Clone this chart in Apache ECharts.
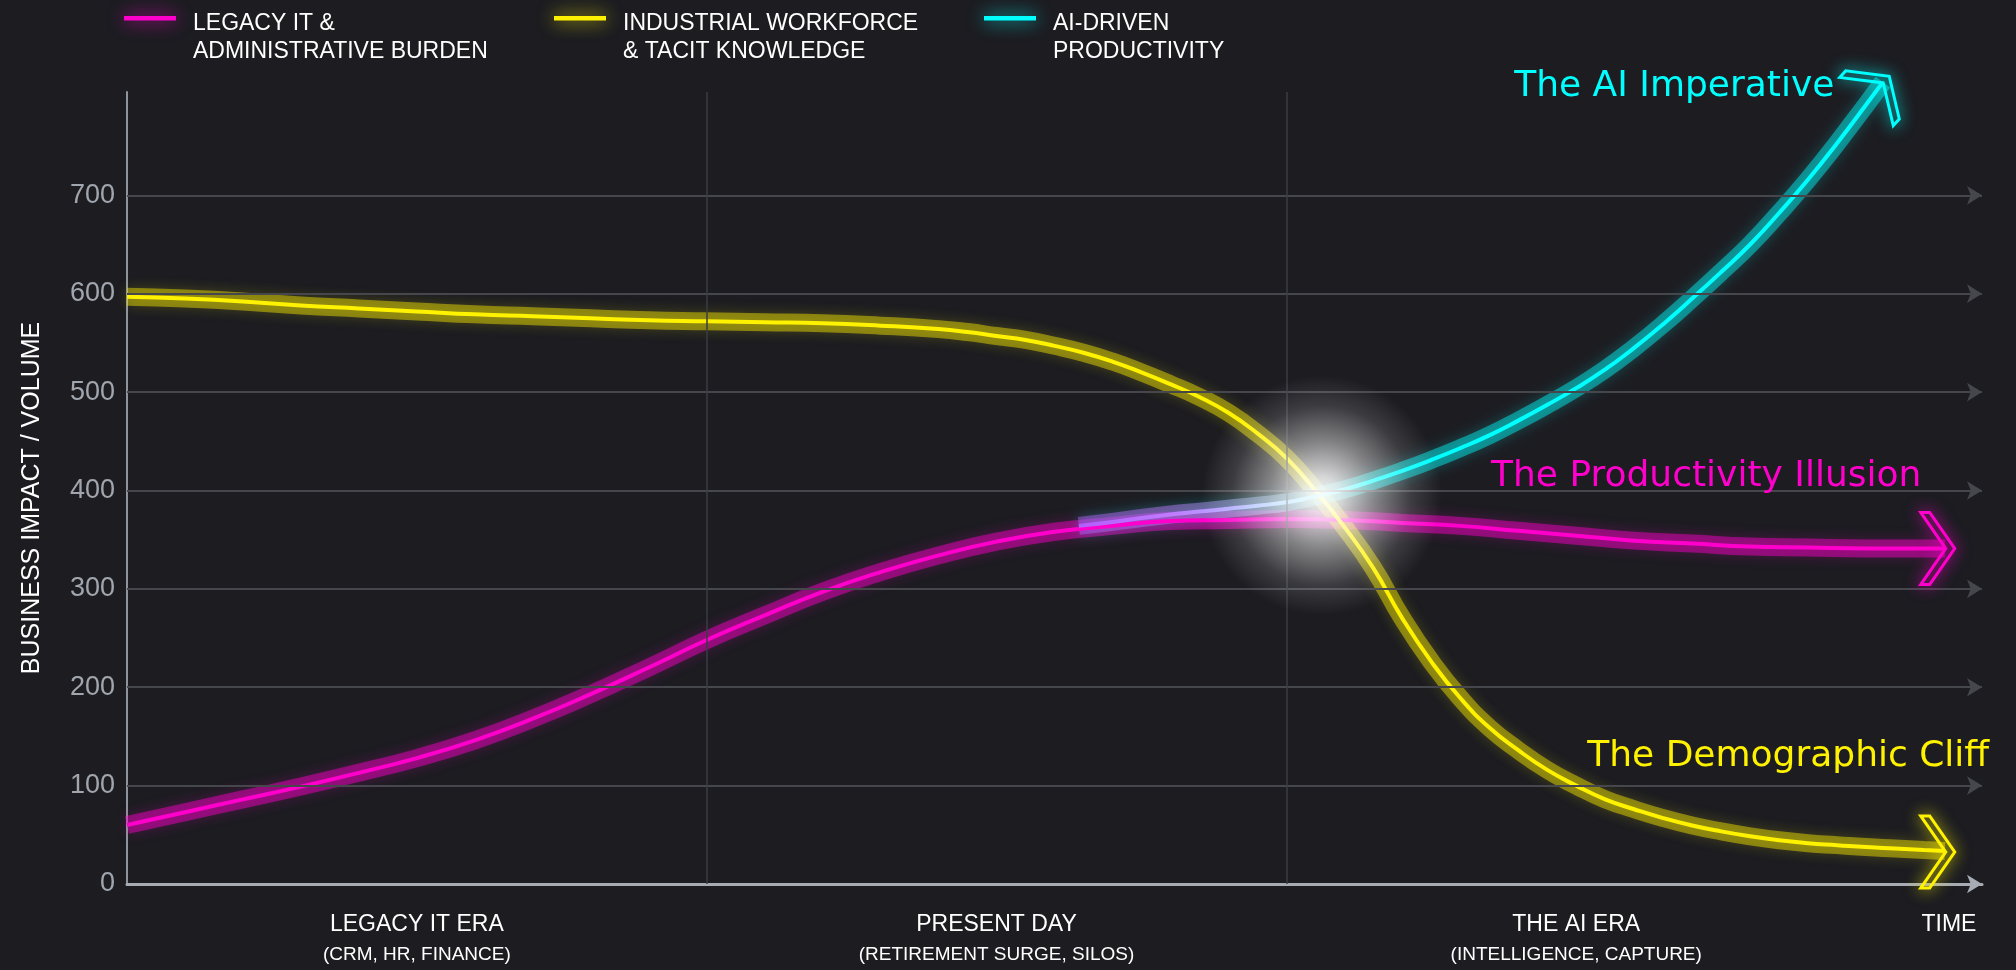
<!DOCTYPE html>
<html>
<head>
<meta charset="utf-8">
<script src="https://cdn.jsdelivr.net/npm/echarts@6.0.0/dist/echarts.min.js"></script>
<style>
html,body{margin:0;padding:0;background:#1c1c21;}
#chart{width:2016px;height:970px;}
</style>
</head>
<body>
<div id="chart"></div>
<script>
// ---------- DATA ----------
const seriesNames = ['LEGACY IT & ADMINISTRATIVE BURDEN', 'INDUSTRIAL WORKFORCE & TACIT KNOWLEDGE', 'AI-DRIVEN PRODUCTIVITY'];
const legendLabels = ['LEGACY IT &\nADMINISTRATIVE BURDEN', 'INDUSTRIAL WORKFORCE\n& TACIT KNOWLEDGE', 'AI-DRIVEN\nPRODUCTIVITY'];
const eraLabels = ['LEGACY IT ERA', 'PRESENT DAY', 'THE AI ERA'];
const eraSubLabels = ['(CRM, HR, FINANCE)', '(RETIREMENT SURGE, SILOS)', '(INTELLIGENCE, CAPTURE)'];
const eraCenters = [5, 15, 25];
const eraBoundaries = [10, 20];
const timeLabel = 'TIME';
const timeLabelAt = 31.43;
const yGridValues = [100, 200, 300, 400, 500, 600, 700];
const yAxisName = 'BUSINESS IMPACT / VOLUME';

const legacyIT = [[0,60],[1,73],[2,86],[3,99],[4,113],[5,128],[6,146],[7,168],[8,193],[9,220],[10,248],[11,273],[12,297],[13,317],[14,334],[15,348],[16,358],[17,364],[18,369],[19,370],[20,371],[21,370],[22,367],[23,364],[24,359],[25,354],[26,349],[27,346],[28,343],[29,342],[30,341],[31.36,341]];
const workforce = [[0,597],[1,595],[2,592],[3,588],[4,585],[5,582],[6,579],[7,577],[8,575],[9,573],[10,572],[11,571],[12,570],[13,567.5],[14,564],[14.5,561],[15,557],[15.5,553],[16,547],[16.5,540],[17,531],[17.5,520],[18,508],[18.5,495],[19,479],[19.5,458],[20,433],[20.5,400],[21,363],[21.5,321],[22,270],[22.5,226],[23,189],[23.5,159],[24,136],[24.5,116],[25,100],[25.5,86],[26,76],[26.5,67],[27,59.5],[27.5,53.5],[28,48.5],[28.5,44.5],[29,41.5],[29.5,39.5],[30,37.5],[30.5,36],[31,34.5],[31.36,33.5]];
const aiProductivity = [[16.42,364],[17,368],[17.5,372],[18,375.5],[18.5,378.5],[19,381.5],[19.5,384.5],[20,388],[20.5,394],[21,401],[21.5,410],[22,420],[22.5,431],[23,443],[23.5,456],[24,471],[24.5,487],[25,504],[25.5,523],[26,545],[26.5,569],[27,595],[27.5,622],[28,650],[28.5,682],[29,716],[29.5,753],[30,792],[30.29,815]];

const annotationTexts = ['The Productivity Illusion', 'The Demographic Cliff', 'The AI Imperative'];
// [x, y, extra lift in value units above the axis top]
const annotationAnchors = [[23.53, 413.6, 0], [25.19, 129.8, 0], [23.93, 800, 10]];
const arrowTips = [[31.53, 341, 0], [31.53, 32.5, 0], [30.40, 800, 21]];
const arrowAngles = [0, 0, 48];
const convergencePoint = [20.61, 395];

// ---------- STYLE ----------
const COLORS = ['#ff00cc', '#fff200', '#00ffff'];
const GLOW = ['rgba(255,0,204,0.45)', 'rgba(255,242,0,0.43)', 'rgba(0,255,255,0.43)'];
const FONT = 'Liberation Sans';
const PX_PER_UNIT = 0.984;
const SMOOTH = 0.5;
const chevron = 'path://M0,0 L9,0 L34,36 L9,72 L0,72 L25,36 Z M68,36';
const legendIcon = 'path://M0,0 M0,6 L52,6 L52,10.5 L0,10.5 Z M64,56';

const cyanCore = {type:'linear', x:0, y:0, x2:1, y2:0, colorStops:[
  {offset:0, color:'#b45cff'}, {offset:0.12, color:'#c07cff'}, {offset:0.25, color:'#a8d0ff'},
  {offset:0.36, color:'#00ffff'}, {offset:1, color:'#00ffff'}]};
const cyanGlow = {type:'linear', x:0, y:0, x2:1, y2:0, colorStops:[
  {offset:0, color:'rgba(180,92,255,0.45)'}, {offset:0.12, color:'rgba(192,124,255,0.45)'}, {offset:0.25, color:'rgba(168,208,255,0.42)'},
  {offset:0.36, color:'rgba(0,255,255,0.43)'}, {offset:1, color:'rgba(0,255,255,0.43)'}]};

const datasets = [legacyIT, workforce, aiProductivity];
const coreColors = [COLORS[0], COLORS[1], cyanCore];
const glowColors = [GLOW[0], GLOW[1], cyanGlow];

const series = [];
series.push({
  type:'line', data:[], z:0, silent:true, animation:false,
  markLine:{silent:true, animation:false, symbol:['none','arrow'], symbolSize:[14,15],
    label:{show:false}, emphasis:{disabled:true},
    lineStyle:{color:'#45474d', width:2, type:'solid'},
    data: yGridValues.map(v => ({yAxis:v}))}
});
series.push({
  type:'line', data:[], z:0, silent:true, animation:false,
  markLine:{silent:true, animation:false, symbol:['none','none'],
    label:{show:false}, emphasis:{disabled:true},
    lineStyle:{color:'#3a3c42', width:1.5, type:'solid'},
    data: eraBoundaries.map(v => ({xAxis:v}))}
});
datasets.forEach((d, i) => {
  series.push({
    type:'line', data:d, smooth:SMOOTH, symbol:'none', silent:true, clip:false, z:2,
    animation:false,
    lineStyle:{width:18, color:glowColors[i], cap:'butt', shadowBlur:14, shadowColor: i===2 ? 'rgba(0,255,255,0.5)' : GLOW[i]}
  });
});
datasets.forEach((d, i) => {
  const tip = arrowTips[i], an = annotationAnchors[i];
  series.push({
    name: seriesNames[i], type:'line', data:d, smooth:SMOOTH, symbol:'none', clip:false, z:4,
    animation:false,
    lineStyle:{width:4, color:coreColors[i]},
    itemStyle:{color:COLORS[i]},
    emphasis:{disabled:true},
    markPoint:{
      silent:true, animation:false,
      data:[
        {coord:[tip[0], tip[1]], symbol:chevron, symbolSize:[68,72], symbolRotate:arrowAngles[i],
         symbolOffset:[0, -tip[2]*PX_PER_UNIT],
         itemStyle:{color:'rgba(0,0,0,0)', borderColor:COLORS[i], borderWidth:3, shadowBlur:16, shadowColor:COLORS[i]},
         label:{show:false}},
        {coord:[an[0], an[1]], symbol:'circle', symbolSize:1,
         itemStyle:{color:'rgba(0,0,0,0)'},
         label:{show:true, position:'inside', align:'left', verticalAlign:'middle', offset:[0, -an[2]*PX_PER_UNIT],
           formatter: annotationTexts[i], color:COLORS[i], fontSize:36, fontFamily:'DejaVu Sans'}}
      ]
    }
  });
});
series.push({
  type:'scatter', data:[convergencePoint], symbolSize:240, z:6, silent:true, animation:false,
  itemStyle:{opacity:1, color:{type:'radial', x:0.5, y:0.5, r:0.5, colorStops:[
    {offset:0, color:'rgba(255,255,255,0.92)'}, {offset:0.15, color:'rgba(255,255,255,0.82)'},
    {offset:0.45, color:'rgba(255,255,255,0.45)'}, {offset:0.75, color:'rgba(255,255,255,0.14)'},
    {offset:1, color:'rgba(255,255,255,0)'}]}}
});

const legendLeft = [124, 554, 984];
const legend = seriesNames.map((name, i) => ({
  data:[{name, icon:legendIcon, itemStyle:{color:COLORS[i], borderWidth:0, shadowBlur:18, shadowColor:COLORS[i]}}],
  left:legendLeft[i], top:10, padding:0, itemWidth:64, itemHeight:56, selectedMode:false,
  formatter: () => legendLabels[i],
  textStyle:{color:'#ffffff', fontSize:23, lineHeight:28, fontFamily:FONT}
}));

const chart = echarts.init(document.getElementById('chart'), null, {renderer:'canvas'});
chart.setOption({
  backgroundColor:'#1c1c21',
  animation:false,
  textStyle:{fontFamily:FONT},
  legend,
  grid:{left:127, right:34, top:92, bottom:86, outerBoundsMode:'none'},
  xAxis:{
    type:'value', min:0, max:32,
    axisLine:{show:true, onZero:false, symbol:['none','arrow'], symbolSize:[14,15], lineStyle:{color:'#a7abb3', width:3}},
    axisTick:{show:false}, splitLine:{show:false},
    axisLabel:{show:true, customValues:[...eraCenters, timeLabelAt], margin:26, verticalAlign:'top',
      formatter:(v) => {
        const i = eraCenters.findIndex(c => Math.abs(c - v) < 1e-6);
        if (i >= 0) return '{a|' + eraLabels[i] + '}\n{b|' + eraSubLabels[i] + '}';
        return '{a|' + timeLabel + '}';
      },
      rich:{a:{color:'#ffffff', fontSize:23, lineHeight:30, fontFamily:FONT}, b:{color:'#ffffff', fontSize:19, lineHeight:30, fontFamily:FONT}}
    }
  },
  yAxis:{
    type:'value', min:0, max:805, interval:100,
    name:yAxisName, nameLocation:'middle', nameGap:82, nameRotate:90,
    nameTextStyle:{color:'#ffffff', fontSize:25, fontFamily:FONT, padding:[0,20,0,0]},
    axisLine:{show:true, lineStyle:{color:'#8f949c', width:2}},
    axisTick:{show:false}, splitLine:{show:false},
    axisLabel:{color:'#a1a6ae', fontSize:27, margin:12, fontFamily:FONT, formatter:(v) => v <= 700 ? String(v) : ''}
  },
  series
});
</script>
</body>
</html>
